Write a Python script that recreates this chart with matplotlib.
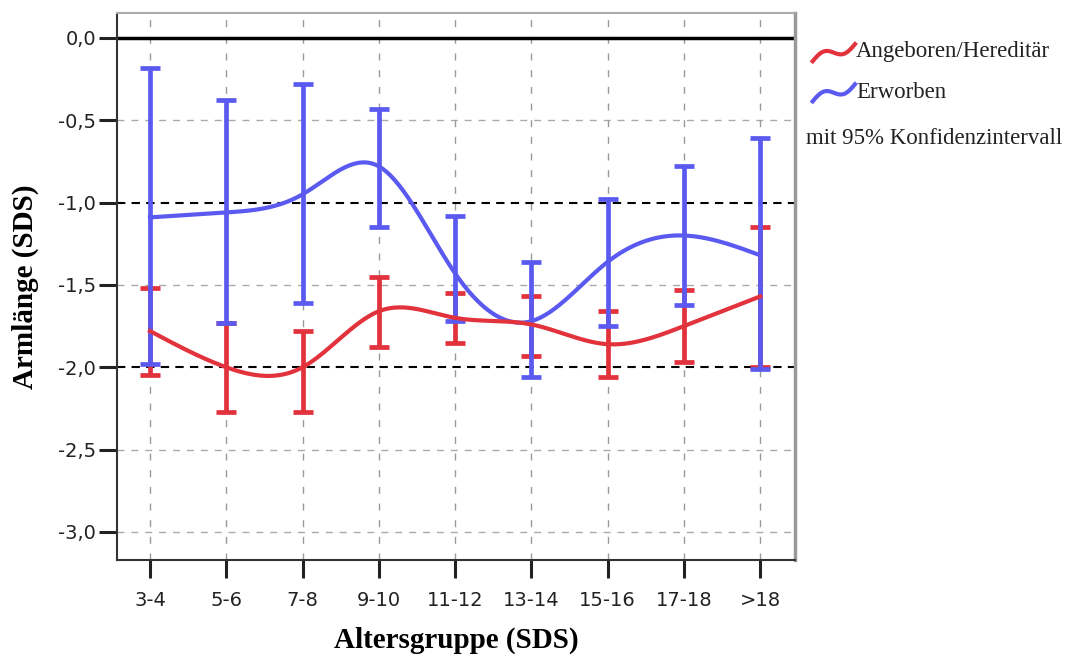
import numpy as np
import matplotlib
matplotlib.use("Agg")
import matplotlib.pyplot as plt
from matplotlib.lines import Line2D

# Altersgruppen und Mittelwerte / 95%-KI
groups = ["3-4", "5-6", "7-8", "9-10", "11-12", "13-14", "15-16", "17-18", ">18"]

ang_mean = [-1.78, -2.00, -2.00, -1.66, -1.70, -1.74, -1.86, -1.75, -1.57]
ang_low = [-2.05, -2.27, -2.27, -1.88, -1.85, -1.93, -2.06, -1.97, -2.00]
ang_high = [-1.52, -1.73, -1.78, -1.45, -1.55, -1.57, -1.66, -1.53, -1.15]

erw_mean = [-1.09, -1.06, -0.95, -0.78, -1.43, -1.72, -1.36, -1.20, -1.32]
erw_low = [-1.98, -1.73, -1.61, -1.15, -1.72, -2.06, -1.75, -1.62, -2.01]
erw_high = [-0.18, -0.38, -0.28, -0.43, -1.08, -1.36, -0.98, -0.78, -0.61]

red = "#e2323c"
blue = "#5a5af0"


def natural_spline(x, y, n=400):
    # natuerlicher kubischer Spline fuer die geglaettete Linie
    x = np.asarray(x, float)
    y = np.asarray(y, float)
    k = len(x)
    h = np.diff(x)
    A = np.zeros((k, k))
    b = np.zeros(k)
    A[0, 0] = 1
    A[-1, -1] = 1
    for i in range(1, k - 1):
        A[i, i - 1] = h[i - 1]
        A[i, i] = 2 * (h[i - 1] + h[i])
        A[i, i + 1] = h[i]
        b[i] = 3 * ((y[i + 1] - y[i]) / h[i] - (y[i] - y[i - 1]) / h[i - 1])
    c = np.linalg.solve(A, b)
    xs = np.linspace(x[0], x[-1], n)
    idx = np.clip(np.searchsorted(x, xs) - 1, 0, k - 2)
    dx = xs - x[idx]
    bb = (y[idx + 1] - y[idx]) / h[idx] - h[idx] * (2 * c[idx] + c[idx + 1]) / 3
    dd = (c[idx + 1] - c[idx]) / (3 * h[idx])
    ys = y[idx] + bb * dx + c[idx] * dx ** 2 + dd * dx ** 3
    return xs, ys


plt.rcParams['font.family'] = ['Liberation Serif', 'DejaVu Serif']

fig = plt.figure(figsize=(10.85, 6.58), dpi=100)
ax = fig.add_axes([0.108, 0.149, 0.625, 0.831])

x = np.arange(len(groups))

# Gitter und Referenzlinien
for yv in [-0.5, -1.5, -2.5, -3.0]:
    ax.axhline(yv, color="#aaaaaa", lw=1, ls=(0, (5, 5)), zorder=1)
for xv in x:
    ax.axvline(xv, color="#999999", lw=1, ls=(0, (5, 7)), zorder=1)
ax.axhline(0.0, color="black", lw=2.5, zorder=2)
ax.axhline(-1.0, color="black", lw=1.5, ls=(0, (4, 3)), zorder=2)
ax.axhline(-2.0, color="black", lw=1.5, ls=(0, (4, 3)), zorder=2)

# Fehlerbalken
for mean, low, high, col, z in [(ang_mean, ang_low, ang_high, red, 3),
                                (erw_mean, erw_low, erw_high, blue, 4)]:
    mean = np.array(mean)
    yerr = [mean - np.array(low), np.array(high) - mean]
    ax.errorbar(x, mean, yerr=yerr, fmt="none", ecolor=col, elinewidth=3.4,
                capsize=7, capthick=3.4, zorder=z)

# geglaettete Linien
xs, ys = natural_spline(x, erw_mean)
ax.plot(xs, ys, color=blue, lw=3, zorder=5)
xs, ys = natural_spline(x, ang_mean)
ax.plot(xs, ys, color=red, lw=3, zorder=6)

ax.set_xlim(-0.43, 8.46)
ax.set_ylim(-3.17, 0.15)
ax.set_xticks(x)
ax.set_xticklabels(groups, fontsize=14, family="DejaVu Sans", color="#222222")
ax.set_yticks([0.0, -0.5, -1.0, -1.5, -2.0, -2.5, -3.0])
ax.set_yticklabels(["0,0", "-0,5", "-1,0", "-1,5", "-2,0", "-2,5", "-3,0"],
                   fontsize=14, family="DejaVu Sans", color="#222222")
ax.tick_params(axis="both", direction="out", length=13, width=2.2, color="#222222")
ax.tick_params(axis="x", pad=9)
ax.tick_params(axis="y", pad=2)

for side in ["left", "bottom"]:
    ax.spines[side].set_color("#333333")
    ax.spines[side].set_linewidth(1.5)
ax.spines["top"].set_color("#aaaaaa")
ax.spines["top"].set_linewidth(1.5)
ax.spines["right"].set_color("#999999")
ax.spines["right"].set_linewidth(2.5)

ax.set_xlabel("Altersgruppe (SDS)", fontsize=21, fontweight="bold", labelpad=12)
ax.set_ylabel("Armlänge (SDS)", fontsize=21, fontweight="bold", labelpad=14)

# Legende mit Wellensymbol
t = np.linspace(0, 1, 60)
for yy, col, label in [(0.921, red, "Angeboren/Hereditär"), (0.860, blue, "Erworben")]:
    wx = 0.749 + 0.039 * t
    wy = yy - 0.014 + 0.026 * t + 0.008 * np.sin(2 * np.pi * t)
    fig.add_artist(Line2D(wx, wy, color=col, lw=3, transform=fig.transFigure))
    fig.text(0.789, yy, label, fontsize=16.5, va="center", ha="left", color="#222222")
fig.text(0.743, 0.790, "mit 95% Konfidenzintervall", fontsize=16.5, va="center",
         ha="left", color="#222222")

fig.savefig("out.png", dpi=100, facecolor="white")
